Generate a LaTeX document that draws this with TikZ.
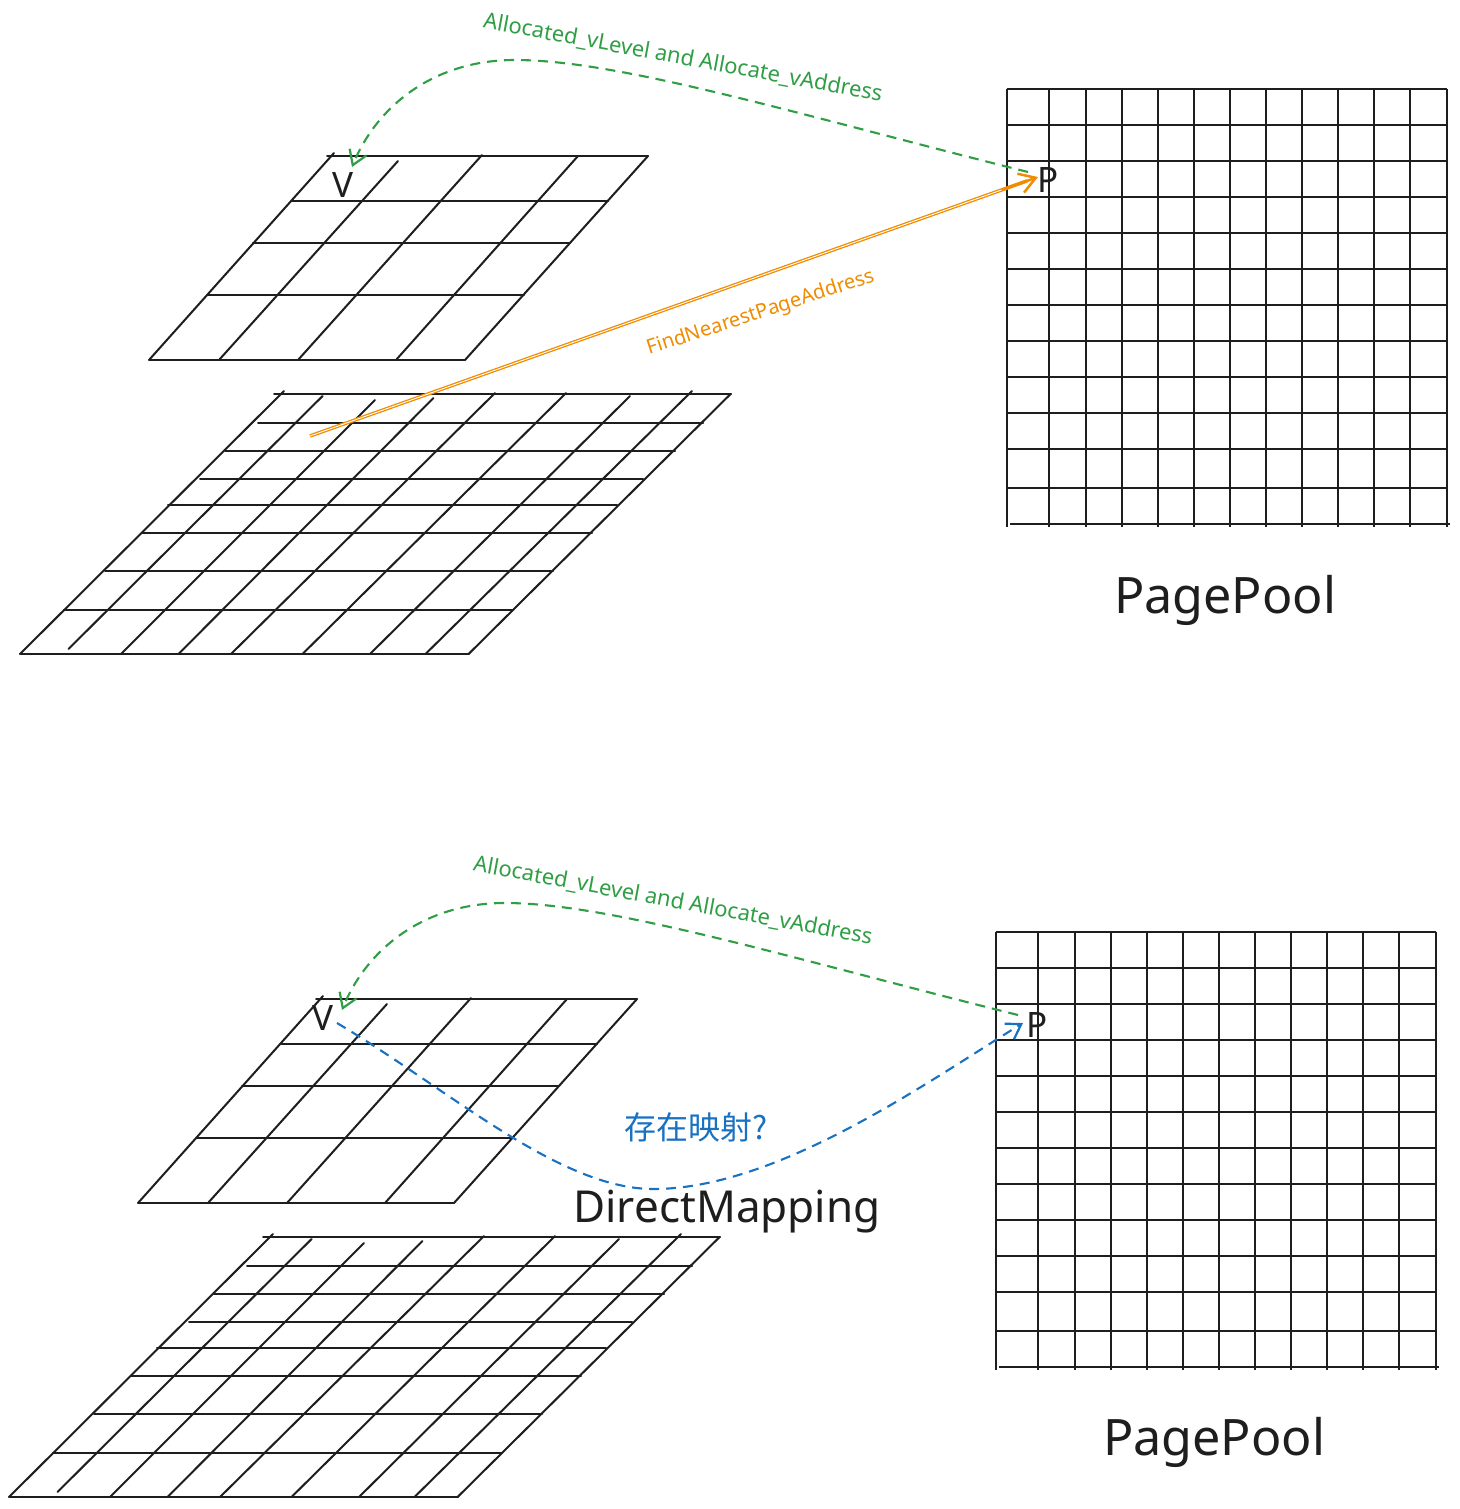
\documentclass[tikz,border=0pt]{standalone}
\usepackage{fontspec}
\usepackage{graphicx}
\setmainfont{Noto Sans}
\newfontfamily\cjk{Noto Sans CJK SC}
\usetikzlibrary{arrows.meta,calc}
\definecolor{ink}{HTML}{1E1E1E}
\definecolor{exgreen}{HTML}{2F9E44}
\definecolor{exorange}{HTML}{F08C00}
\definecolor{exblue}{HTML}{1971C2}
\tikzset{
  gridline/.style={draw=ink, line width=2pt, line cap=round},
  poolline/.style={draw=ink, line width=1.6pt},
  greenarrow/.style={draw=exgreen, line width=2.1pt, dash pattern=on 10pt off 7pt,
     -{Straight Barb[length=14pt,width=18pt,line width=2.2pt]}},
  bluearrow/.style={draw=exblue, line width=2.1pt, dash pattern=on 10pt off 7pt,
     -{Straight Barb[length=14pt,width=18pt,line width=2.2pt]}},
  orangeline/.style={draw=exorange, line width=1.3pt, double=white, double distance=0.9pt},
  orangetip/.style={draw=exorange, line width=2.5pt, -{Straight Barb[length=16pt,width=20pt,line width=2.5pt]}},
  letterlabel/.style={inner sep=0pt, text=ink, font=\fontsize{35}{40}\selectfont\bfseries},
  greenlabel/.style={inner sep=0pt, text=exgreen, font=\fontsize{20}{24}\selectfont},
  orangelabel/.style={inner sep=0pt, text=exorange, font=\fontsize{20}{24}\selectfont},
  biglabel/.style={inner sep=0pt, text=ink, font=\fontsize{48}{56}\selectfont},
  cjklabel/.style={inner sep=0pt, text=exblue, font=\cjk\fontsize{30}{36}\selectfont}
}
\newcommand{\levelgrids}{%
  % small (upper) level grid
  \draw[gridline] (327,156) -- (648,156);
  \draw[gridline] (149,360) -- (465,360);
  \draw[gridline] (149,360) -- (334,153);
  \draw[gridline] (465,360) -- (648,156);
  \foreach \yy/\aa/\bb in {201/292/608, 243/253/569, 295/208/524}
    \draw[gridline] (\aa,\yy) -- (\bb,\yy);
  \foreach \aa/\bb/\cc/\dd in {219/360/398/161, 298/360/482/155, 396/360/578/156}
    \draw[gridline] (\aa,\bb) -- (\cc,\dd);
  % large (lower) level grid
  \foreach \yy/\aa/\bb in {394/274/731, 423/258/703, 451/225/675, 479/200/643,
      505/168/617, 533/142/592, 571/105/553, 610/64/513, 654/20/469}
    \draw[gridline] (\aa,\yy) -- (\bb,\yy);
  \foreach \aa/\bb/\cc/\dd in {20/654/284/391, 68.5/649/322.6/396, 121/654/375/400,
      178.5/654/433.5/398, 231/654/495/393, 302.5/654/566/393, 370/654/630/396,
      425.5/654/692/391, 468.6/654/730.6/394}
    \draw[gridline] (\aa,\bb) -- (\cc,\dd);
  % page pool
  \foreach \xx in {1007,1049,1086,1122,1158,1194,1230,1266,1302,1338,1374,1410,1447}
    \draw[poolline] (\xx,89) -- (\xx,527);
  \foreach \yy in {89,125,161,197,233,269,305,341,377,413,449,488}
    \draw[poolline] (1007,\yy) -- (1447,\yy);
  \draw[poolline] (1010,524) -- (1450,524);
}
\begin{document}
\begin{tikzpicture}[x=1pt,y=-1pt]
\useasboundingbox[fill=white] (0,0) rectangle (1459,1509);

% ---------- upper scenario ----------
\begin{scope}
  \levelgrids
\end{scope}
\node[letterlabel] (V1) at (343,185) {V};
\node[letterlabel] (P1) at (1048,180) {P};
\node[biglabel] (pool1) at (1225,600) {\resizebox{222pt}{!}{PagePool}};
\coordinate (g1s) at (1028,172);
\coordinate (g1e) at (352,167);
\draw[greenarrow] (g1s) .. controls (800,115) and (620,60) .. (515,60)
   .. controls (430,60) and (375,110) .. (g1e);
\node[greenlabel, rotate=-10.4] (alloc1) at (683,58)
   {\resizebox{405pt}{!}{Allocated\_vLevel and Allocate\_vAddress}};
\coordinate (o1s) at (310,436);
\coordinate (o1e) at (1038,177);
\draw[orangeline] (o1s) -- ($(o1s)!0.985!(o1e)$);
\draw[orangetip] ($(o1s)!0.95!(o1e)$) -- (o1e);
\node[orangelabel, rotate=18] (find1) at (761,313)
   {\resizebox{238pt}{!}{FindNearestPageAddress}};

% ---------- lower scenario ----------
\begin{scope}[shift={(-11,843)}]
  \levelgrids
\end{scope}
\node[letterlabel] (V2) at (323,1018) {V};
\node[letterlabel] (P2) at (1037,1025) {P};
\node[biglabel] (pool2) at (1214,1442) {\resizebox{222pt}{!}{PagePool}};
\coordinate (g2s) at (1018,1015);
\coordinate (g2e) at (342,1010);
\draw[greenarrow] (g2s) .. controls (790,958) and (610,903) .. (505,903)
   .. controls (420,903) and (365,953) .. (g2e);
\node[greenlabel, rotate=-10.4] (alloc2) at (673,901)
   {\resizebox{405pt}{!}{Allocated\_vLevel and Allocate\_vAddress}};
\coordinate (b2s) at (337,1023);
\coordinate (b2e) at (1023,1023);
\draw[bluearrow] (b2s) .. controls (450,1090) and (560,1190) .. (655,1189)
   .. controls (780,1188) and (930,1080) .. (b2e);
\node[cjklabel] (exist2) at (696,1127) {\resizebox{143pt}{!}{存在映射?}};
\node[biglabel] (direct2) at (727,1212) {\resizebox{307pt}{!}{DirectMapping}};
\end{tikzpicture}
\end{document}
